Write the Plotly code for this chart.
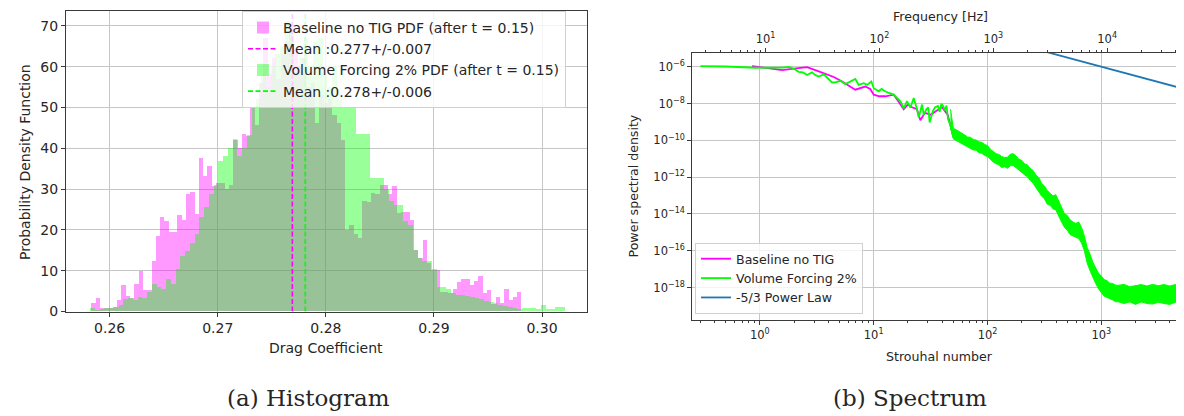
import numpy as np
import plotly.graph_objects as go

# ---------------- Histogram data (PDF of drag coefficient) ----------------
base_bin_start = 0.2583
base_bin_width = 0.000398
base_pdf = [1.9, 3.1, 0.8, 0.7, 0.8, 1.1, 2.7, 6.3, 3.7, 3.1,
            6.7, 9.9, 5.3, 5.1, 12.3, 18.3, 23.1, 22.2, 19.3, 19.3,
            23.5, 22.3, 28.6, 29.1, 23.9, 37.5, 33.1, 35.5, 30.7, 31.5,
            31.5, 30.0, 31.0, 42.0, 40.0, 43.5, 43.0, 50.0, 45.5, 56.0,
            67.0, 58.0, 62.0, 57.0, 63.0, 66.0, 70.0, 64.0, 60.0, 62.0,
            55.0, 56.0, 46.0, 53.0, 51.0, 52.0, 48.0, 46.0, 42.0, 20.0,
            21.0, 19.0, 18.0, 27.0, 26.7, 29.0, 28.7, 31.0, 31.0, 28.7,
            30.7, 24.0, 24.3, 24.3, 22.3, 15.0, 13.0, 17.5, 11.9, 10.0,
            10.0, 4.7, 4.7, 4.5, 5.5, 7.1, 7.9, 7.9, 6.3, 7.5,
            8.5, 4.5, 5.3, 1.8, 3.5, 1.9, 5.5, 2.8, 3.5, 4.8]

forcing_bin_start = 0.2582
forcing_bin_width = 0.000439
forcing_pdf = [0.7, 0.3, 0.5, 0.8, 0.8, 1.0, 1.5, 3.0, 3.2, 2.8,
               3.5, 3.2, 4.7, 6.7, 6.0, 5.5, 7.9, 6.7, 10.3, 13.5,
               14.7, 16.7, 19.0, 23.0, 25.5, 28.7, 31.0, 36.7, 38.0, 40.0,
               42.3, 38.0, 40.0, 43.2, 50.0, 52.0, 58.0, 55.0, 60.0, 63.0,
               65.0, 71.0, 69.0, 58.0, 62.0, 67.0, 60.0, 66.0, 67.0, 58.0,
               55.0, 60.0, 52.0, 50.0, 50.0, 50.0, 43.5, 43.5, 43.5, 32.7,
               32.7, 32.7, 30.0, 27.0, 26.0, 26.0, 22.0, 21.0, 15.0, 13.0,
               12.3, 12.3, 10.3, 5.9, 5.9, 5.5, 4.5, 4.0, 4.0, 3.8,
               3.5, 3.3, 3.0, 2.5, 2.2, 2.0, 1.5, 1.3, 1.0, 0.8,
               0.5, 0.7, 0.7, 0.8, 0.6, 1.5, 0.5, 0.4, 1.0, 1.1]

base_mean = 0.2769
forcing_mean = 0.2781

hist_names = ["Baseline no TIG PDF (after t = 0.15)", "Mean :0.277+/-0.007",
              "Volume Forcing 2% PDF (after t = 0.15)", "Mean :0.278+/-0.006"]
hist_xticks = [0.26, 0.27, 0.28, 0.29, 0.30]
hist_xticklabels = ["0.26", "0.27", "0.28", "0.29", "0.30"]
hist_yticks = [0, 10, 20, 30, 40, 50, 60, 70]
hist_x_range = [0.25596, 0.30416]
hist_y_range = [0, 73.56]

# ---------------- Spectrum data (log10 values) ----------------
forcing_log_st = [-0.521, -0.30, -0.039, 0.10, 0.20, 0.255, 0.30, 0.342, 0.38, 0.415,
                  0.459, 0.49, 0.518, 0.562, 0.606, 0.635, 0.664, 0.708, 0.752, 0.796,
                  0.839, 0.869, 0.913, 0.942, 0.980, 1.001, 1.045, 1.07, 1.089, 1.133,
                  1.176, 1.205, 1.235, 1.264, 1.293, 1.322, 1.352, 1.381, 1.396, 1.425,
                  1.44, 1.463, 1.48, 1.492, 1.505, 1.521, 1.54, 1.565, 1.58, 1.595,
                  1.609, 1.625, 1.64, 1.653, 1.675, 1.697, 1.756, 1.829, 1.902, 1.975,
                  2.048, 2.121, 2.180, 2.224, 2.283, 2.356, 2.414, 2.487, 2.531, 2.590,
                  2.648, 2.692, 2.736, 2.809, 2.839, 2.897, 2.956, 3.015, 3.087, 3.234,
                  3.4, 3.526, 3.731, 3.752]
forcing_log_psd = [-5.96, -5.98, -6.05, -6.06, -6.04, -6.0, -6.1, -6.27, -6.3, -6.44,
                   -6.30, -6.45, -6.53, -6.41, -6.71, -6.85, -6.84, -6.76, -6.94, -6.8,
                   -6.66, -6.98, -6.89, -6.98, -6.8, -7.16, -7.33, -7.2, -7.29, -7.42,
                   -7.51, -7.69, -7.87, -8.26, -7.87, -8.22, -7.69, -8.31, -8.76, -8.05,
                   -8.6, -8.31, -8.2, -9.02, -8.7, -8.4, -8.2, -8.13, -8.45, -8.0,
                   -8.13, -8.35, -8.1, -8.84, -9.2, -9.73, -9.82, -10.18, -10.27, -10.53,
                   -10.98, -11.19, -11.24, -10.89, -11.42, -11.7, -12.13, -12.76, -13.2, -13.38,
                   -14.27, -14.53, -14.98, -14.98, -15.6, -16.67, -17.47, -17.82, -18.09, -18.3,
                   -18.3, -18.3, -18.36, -18.3]

base_log_st = [-0.068, 0.05, 0.196, 0.30, 0.415, 0.50, 0.576, 0.65, 0.723, 0.78,
               0.839, 0.927, 0.97, 1.001, 1.05, 1.103, 1.176, 1.22, 1.264, 1.30,
               1.337, 1.38, 1.41, 1.45, 1.50, 1.60, 1.65, 1.70, 1.80, 1.90,
               2.0, 2.1, 2.2, 2.3, 2.4, 2.5, 2.6, 2.7, 2.8, 2.85,
               2.9, 2.95, 3.0, 3.1, 3.3, 3.5, 3.752]
base_log_psd = [-5.96, -6.05, -6.18, -6.1, -6.02, -6.2, -6.36, -6.55, -6.8, -7.0,
                -7.24, -7.07, -7.2, -7.51, -7.6, -7.6, -7.51, -7.9, -8.31, -8.05,
                -8.2, -8.3, -8.9, -8.5, -8.6, -8.2, -8.6, -9.8, -10.1, -10.35,
                -10.65, -11.15, -11.15, -11.5, -12.1, -13.0, -13.5, -14.65, -15.0, -15.7,
                -16.75, -17.5, -17.85, -18.2, -18.35, -18.35, -18.35]

# noisy band envelopes (upper / lower edge of the thick curve), log10 values
band_log_st = [1.675, 1.700, 1.725, 1.750, 1.775, 1.800, 1.825, 1.850, 1.875, 1.900,
               1.925, 1.950, 1.975, 2.000, 2.025, 2.050, 2.075, 2.100, 2.125, 2.150,
               2.175, 2.200, 2.225, 2.250, 2.275, 2.300, 2.325, 2.350, 2.375, 2.400,
               2.425, 2.450, 2.475, 2.500, 2.525, 2.550, 2.575, 2.600, 2.625, 2.650,
               2.675, 2.700, 2.725, 2.750, 2.775, 2.800, 2.825, 2.850, 2.875, 2.900,
               2.925, 2.950, 2.975, 3.000, 3.025, 3.050, 3.075, 3.100, 3.125, 3.150,
               3.200, 3.250, 3.300, 3.350, 3.400, 3.450, 3.500, 3.550, 3.600, 3.650,
               3.700, 3.752]
forcing_band_upper = [-8.3, -9.35, -9.42, -9.5, -9.62, -9.7, -9.82, -9.83, -9.95, -9.98,
                      -10.08, -10.1, -10.22, -10.28, -10.48, -10.58, -10.72, -10.76, -10.88, -10.93,
                      -10.92, -10.75, -10.72, -10.84, -11.02, -11.08, -11.27, -11.33, -11.52, -11.63,
                      -11.88, -12.02, -12.33, -12.48, -12.72, -12.88, -13.02, -12.95, -13.32, -13.68,
                      -13.97, -14.08, -14.32, -14.43, -14.52, -14.43, -14.72, -15.18, -15.82, -16.18,
                      -16.62, -16.93, -17.22, -17.38, -17.57, -17.63, -17.77, -17.78, -17.87, -17.88,
                      -17.83, -17.96, -17.88, -17.84, -17.92, -17.83, -17.9, -17.84, -17.92, -17.84,
                      -17.9, -17.85]
forcing_band_lower = [-9.3, -9.92, -10.02, -10.08, -10.17, -10.28, -10.37, -10.43, -10.52, -10.53,
                      -10.67, -10.7, -10.82, -10.88, -11.02, -11.18, -11.27, -11.33, -11.47, -11.43,
                      -11.52, -11.38, -11.37, -11.48, -11.62, -11.73, -11.87, -11.98, -12.17, -12.33,
                      -12.57, -12.78, -13.02, -13.18, -13.47, -13.53, -13.72, -13.78, -14.12, -14.43,
                      -14.72, -14.88, -15.12, -15.18, -15.27, -15.33, -15.57, -15.98, -16.67, -17.08,
                      -17.47, -17.78, -18.07, -18.28, -18.47, -18.53, -18.62, -18.68, -18.77, -18.78,
                      -18.87, -18.78, -18.92, -18.78, -18.87, -18.9, -18.8, -18.87, -18.92, -18.8,
                      -18.9, -18.85]

power_law_st = [0.3, 5650.0]
power_law_psd = [7.4e-1, 5.7e-8]

strouhal_to_hz = 8.9

spec_names = ["Baseline no TIG", "Volume Forcing 2%", "-5/3 Power Law"]
st_tickvals = [1, 10, 100, 1000]
st_ticktext = ["10<sup>0</sup>", "10<sup>1</sup>", "10<sup>2</sup>", "10<sup>3</sup>"]
hz_tickvals = [10, 100, 1000, 10000]
hz_ticktext = ["10<sup>1</sup>", "10<sup>2</sup>", "10<sup>3</sup>", "10<sup>4</sup>"]
psd_tickvals = [1e-6, 1e-8, 1e-10, 1e-12, 1e-14, 1e-16, 1e-18]
psd_ticktext = ["10<sup>\u22126</sup>", "10<sup>\u22128</sup>", "10<sup>\u221210</sup>",
                "10<sup>\u221212</sup>", "10<sup>\u221214</sup>", "10<sup>\u221216</sup>",
                "10<sup>\u221218</sup>"]
st_log_range = [-0.592, 3.752]
psd_log_range = [-19.776, -5.237]

# ---------------- styling ----------------
FONT = "DejaVu Sans"
TXT = "#262626"
GRID = "#c6c6c6"
SPINE = "#3a3a3a"
MAGENTA = "#ff00ff"
LIME = "#00ff00"
BLUE = "#1f77b4"
LFS = 14      # left panel font size
RFS = 12.6    # right panel font size
RTFS = 11.5   # right panel tick font size

fig = go.Figure()

# Histogram bars
base_centers = base_bin_start + base_bin_width * (np.arange(len(base_pdf)) + 0.5)
forcing_centers = forcing_bin_start + forcing_bin_width * (np.arange(len(forcing_pdf)) + 0.5)

fig.add_trace(go.Bar(x=base_centers, y=base_pdf, width=base_bin_width,
                     marker=dict(color="rgba(255,0,255,0.4)", line=dict(width=0)),
                     name=hist_names[0], legend="legend", legendrank=1,
                     legendgroup="a", xaxis="x", yaxis="y"))
fig.add_trace(go.Bar(x=forcing_centers, y=forcing_pdf, width=forcing_bin_width,
                     marker=dict(color="rgba(0,255,0,0.4)", line=dict(width=0)),
                     name=hist_names[2], legend="legend", legendrank=3,
                     legendgroup="c", xaxis="x", yaxis="y"))
fig.add_trace(go.Scatter(x=[base_mean, base_mean], y=hist_y_range, mode="lines",
                         line=dict(color=MAGENTA, width=1.6, dash="5px,2.5px"),
                         name=hist_names[1], legend="legend", legendrank=2,
                         legendgroup="b", xaxis="x", yaxis="y"))
fig.add_trace(go.Scatter(x=[forcing_mean, forcing_mean], y=hist_y_range, mode="lines",
                         line=dict(color=LIME, width=1.6, dash="5px,2.5px"),
                         name=hist_names[3], legend="legend", legendrank=4,
                         legendgroup="d", xaxis="x", yaxis="y"))

# Spectrum
fig.add_trace(go.Scatter(x=10 ** np.array(base_log_st), y=10 ** np.array(base_log_psd),
                         mode="lines", line=dict(color=MAGENTA, width=1.8),
                         name=spec_names[0], legend="legend2", xaxis="x2", yaxis="y2"))
band_x = 10 ** np.array(list(band_log_st) + list(band_log_st)[::-1])
band_y = 10 ** np.array(list(forcing_band_upper) + list(forcing_band_lower)[::-1])
fig.add_trace(go.Scatter(x=band_x, y=band_y, fill="toself", fillcolor=LIME, mode="lines",
                         line=dict(color=LIME, width=1), showlegend=False,
                         hoverinfo="skip", xaxis="x2", yaxis="y2"))
forcing_st = 10 ** np.array(forcing_log_st)
forcing_psd = 10 ** np.array(forcing_log_psd)
fig.add_trace(go.Scatter(x=forcing_st, y=forcing_psd,
                         mode="lines", line=dict(color=LIME, width=1.8),
                         name=spec_names[1], legend="legend2", xaxis="x2", yaxis="y2"))
fig.add_trace(go.Scatter(x=power_law_st, y=power_law_psd, mode="lines",
                         line=dict(color=BLUE, width=1.8),
                         name=spec_names[2], legend="legend2", xaxis="x2", yaxis="y2"))
# secondary (frequency) axis carrier
fig.add_trace(go.Scatter(x=forcing_st * strouhal_to_hz, y=forcing_psd, mode="lines",
                         line=dict(width=0, color="rgba(0,0,0,0)"), showlegend=False,
                         hoverinfo="skip", xaxis="x3", yaxis="y2"))

def axstyle(fs):
    return dict(showline=True, linecolor=SPINE, linewidth=1.2, mirror=True,
                ticks="outside", ticklen=4, tickwidth=1, tickcolor=SPINE,
                tickfont=dict(family=FONT, size=fs, color=TXT), zeroline=False,
                gridcolor=GRID, gridwidth=1)

minor_st = [m * 10.0 ** d for d in range(-1, 4) for m in range(2, 10)]
minor_hz = [m * 10.0 ** d for d in range(0, 5) for m in range(2, 10)]

fig.update_layout(
    width=1184, height=416, margin=dict(l=0, r=0, t=0, b=0),
    paper_bgcolor="white", plot_bgcolor="white",
    barmode="overlay", bargap=0,
    font=dict(family=FONT, size=12, color=TXT),
    xaxis=dict(domain=[0.04899, 0.48902], range=hist_x_range, anchor="y",
               tickmode="array", tickvals=hist_xticks, ticktext=hist_xticklabels,
               showgrid=True, **axstyle(LFS)),
    yaxis=dict(domain=[0.2560, 0.99159], range=hist_y_range, anchor="x",
               tickmode="array", tickvals=hist_yticks, showgrid=True, **axstyle(LFS)),
    xaxis2=dict(domain=[0.5780, 0.99578], type="log", range=st_log_range, anchor="y2",
                tickmode="array", tickvals=st_tickvals, ticktext=st_ticktext, showgrid=True,
                minor=dict(tickmode="array", tickvals=minor_st, ticks="outside", ticklen=2,
                           tickcolor=SPINE, showgrid=False),
                **axstyle(RTFS)),
    yaxis2=dict(domain=[0.23486, 0.89014], type="log", range=psd_log_range, anchor="x2",
                tickmode="array", tickvals=psd_tickvals, ticktext=psd_ticktext,
                showgrid=True, **axstyle(RTFS)),
    xaxis3=dict(type="log", range=[st_log_range[0] + np.log10(strouhal_to_hz),
                                   st_log_range[1] + np.log10(strouhal_to_hz)],
                overlaying="x2", side="top", anchor="y2",
                tickmode="array", tickvals=hz_tickvals, ticktext=hz_ticktext,
                showgrid=False, showline=True, linecolor=SPINE, linewidth=1.2,
                ticks="outside", ticklen=4, tickcolor=SPINE,
                tickfont=dict(family=FONT, size=RTFS, color=TXT),
                zeroline=False,
                minor=dict(tickmode="array", tickvals=minor_hz, ticks="outside", ticklen=2,
                           tickcolor=SPINE, showgrid=False)),
    legend=dict(x=234 / 1184, y=1 - 3 / 416, xanchor="left", yanchor="top",
                bgcolor="rgba(255,255,255,0.8)", bordercolor="#d0d0d0", borderwidth=1,
                font=dict(family=FONT, size=LFS, color=TXT), tracegroupgap=1,
                traceorder="normal"),
    legend2=dict(x=687 / 1184, y=1 - 312 / 416, xanchor="left", yanchor="bottom",
                 bgcolor="rgba(255,255,255,0.8)", bordercolor="#d0d0d0", borderwidth=1,
                 font=dict(family=FONT, size=RFS, color=TXT)),
    showlegend=True,
)

def ann(text, x, y, size, angle=0, family=FONT):
    fig.add_annotation(text=text, x=x / 1184, y=1 - y / 416, xref="paper", yref="paper",
                       showarrow=False, textangle=angle, xanchor="center", yanchor="middle",
                       font=dict(family=family, size=size, color=TXT))

ann("Probability Density Function", 17, 157, LFS, angle=-90)
ann("Drag Coefficient", 318, 347, LFS)
ann("Power spectral density", 625, 182, RFS, angle=-90)
ann("Strouhal number", 931, 355, RFS)
ann("Frequency [Hz]", 932, 9, RFS)
ann("(a) Histogram", 300, 398, 23, family="DejaVu Serif")
ann("(b) Spectrum", 902, 398, 23, family="DejaVu Serif")

fig.write_html("out.html")
